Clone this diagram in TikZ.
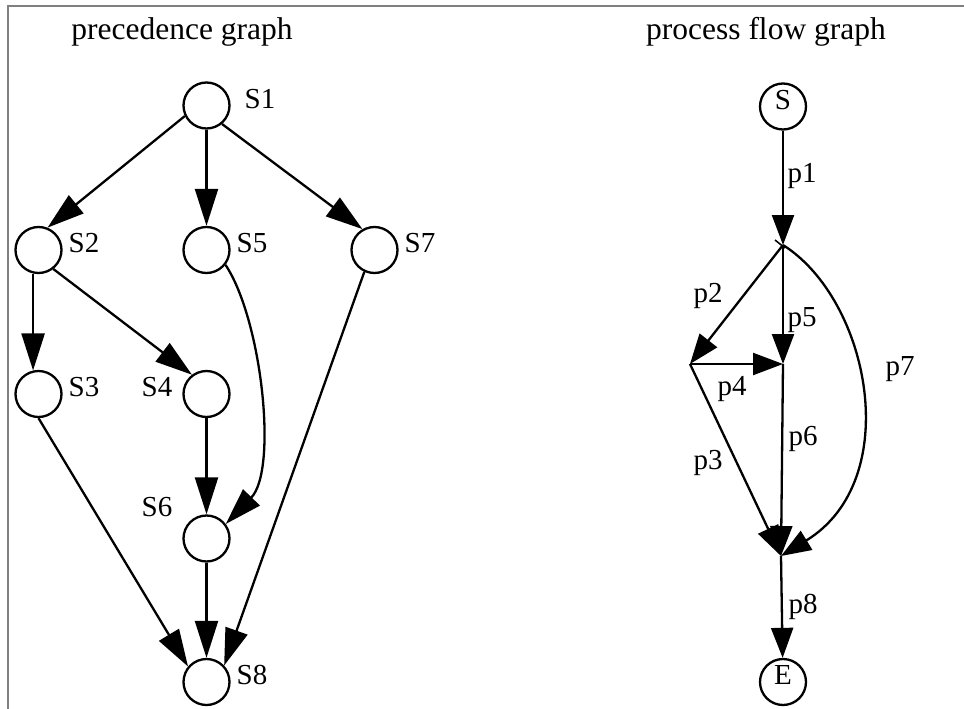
\documentclass[tikz,border=0pt]{standalone}
\usepackage{fontspec}
\setmainfont{Liberation Serif}
\usetikzlibrary{arrows.meta}
\begin{document}
\begin{tikzpicture}[x=1pt,y=-1pt,
  circ/.style={draw,circle,line width=2.3pt,minimum size=46pt,inner sep=0pt},
  lbl/.style={inner sep=0pt,font=\fontsize{29}{32}\selectfont},
  ttl/.style={inner sep=0pt,font=\fontsize{31.5}{36}\selectfont},
  edge/.style={line width=2.3pt,-{Triangle[length=37pt,width=23pt]}},
  flow/.style={line width=2.3pt,-{Triangle[length=30pt,width=22pt]}},
  frame/.style={draw=gray,line width=1.5pt}
  ]
\useasboundingbox (0,0) rectangle (964,709);
\draw[frame] (8,709) -- (8,6) -- (964,6);

% titles
\node[ttl] (t1) at (182,32) {precedence graph};
\node[ttl] (t2) at (766,32) {process flow graph};

% precedence graph nodes
\node[circ] (S1) at (206.5,105.5) {};
\node[circ] (S2) at (38.5,250) {};
\node[circ] (S5) at (206.5,250) {};
\node[circ] (S7) at (374.5,250) {};
\node[circ] (S3) at (38.5,394) {};
\node[circ] (S4) at (206.5,394) {};
\node[circ] (S6) at (206.5,538.5) {};
\node[circ] (S8) at (206.5,682) {};

\node[lbl] (l1) at (260,99) {S1};
\node[lbl] (l2) at (84,243) {S2};
\node[lbl] (l5) at (252,243) {S5};
\node[lbl] (l7) at (420,243) {S7};
\node[lbl] (l3) at (84,387) {S3};
\node[lbl] (l4) at (157,387) {S4};
\node[lbl] (l6) at (157,507) {S6};
\node[lbl] (l8) at (252,675) {S8};

\draw[edge] (S1.206) -- (S2.68);
\draw[edge] (S1.south) -- (S5.north);
\draw[edge] (S1.-50) -- (S7.120);
\draw[edge] (S2.-103) -- (S3.103);
\draw[edge] (S2.-52) -- (S4.127);
\draw[edge] (S5.-38) .. controls (262,320) and (278,470) .. (S6.37);
\draw[edge] (S4.south) -- (S6.north);
\draw[edge] (S7.-115) -- (S8.43);
\draw[edge] (S3.-90) -- (S8.140);
\draw[edge] (S6.south) -- (S8.north);

% process flow graph
\node[circ] (S) at (783,106.5) {};
\node[circ] (E) at (783,682) {};
\node[lbl] (ls) at (783,100) {S};
\node[lbl] (le) at (783,675) {E};

\coordinate (J1) at (783,245);
\coordinate (J2) at (690,364);
\coordinate (J3) at (783,364);
\coordinate (J4) at (781,556);
\coordinate (k1) at (775,240);
\coordinate (k2) at (785,248);

\draw[flow] (S) -- (J1);
\draw[line width=1.5pt] (k1) -- (k2);
\draw[flow] (J1) -- (J2);
\draw[flow] (J1) -- (J3);
\draw[flow] (J2) -- (J3);
\draw[flow] (J3) -- (J4);
\draw[flow] (J2) -- (J4);
\draw[flow] (J1) .. controls (870,300) and (905,480) .. (J4);
\draw[flow] (J4) -- (E);

\node[lbl] (p1) at (802,176) {p1};
\node[lbl] (p2) at (708,296) {p2};
\node[lbl] (p5) at (802,320) {p5};
\node[lbl] (p7) at (900,369) {p7};
\node[lbl] (p4) at (732,389) {p4};
\node[lbl] (p6) at (803,439) {p6};
\node[lbl] (p3) at (708,463) {p3};
\node[lbl] (p8) at (803,607) {p8};
\end{tikzpicture}
\end{document}
